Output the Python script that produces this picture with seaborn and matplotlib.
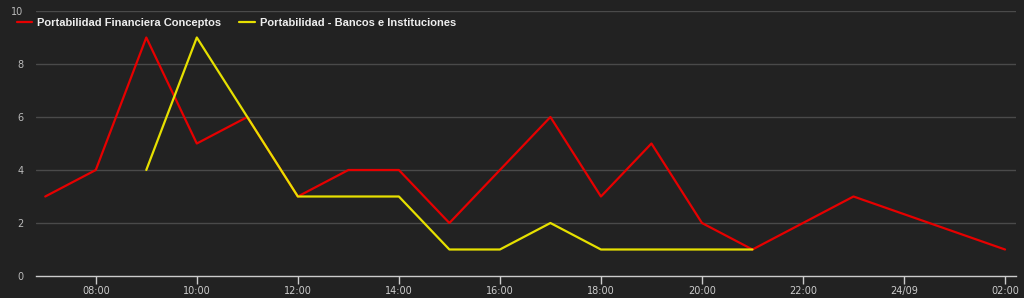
import matplotlib
matplotlib.use("Agg")
import matplotlib.pyplot as plt
import matplotlib.dates as mdates
from matplotlib.ticker import FuncFormatter
import seaborn as sns
import pandas as pd

red_times = ["2023-09-23 07:00", "2023-09-23 08:00", "2023-09-23 09:00", "2023-09-23 10:00",
             "2023-09-23 11:00", "2023-09-23 12:00", "2023-09-23 13:00", "2023-09-23 14:00",
             "2023-09-23 15:00", "2023-09-23 16:00", "2023-09-23 17:00", "2023-09-23 18:00",
             "2023-09-23 19:00", "2023-09-23 20:00", "2023-09-23 21:00", "2023-09-23 22:00",
             "2023-09-23 23:00", "2023-09-24 02:00"]
red_values = [3, 4, 9, 5, 6, 3, 4, 4, 2, 4, 6, 3, 5, 2, 1, 2, 3, 1]

yellow_times = ["2023-09-23 09:00", "2023-09-23 10:00", "2023-09-23 11:00", "2023-09-23 12:00",
                "2023-09-23 13:00", "2023-09-23 14:00", "2023-09-23 15:00", "2023-09-23 16:00",
                "2023-09-23 17:00", "2023-09-23 18:00", "2023-09-23 19:00", "2023-09-23 20:00",
                "2023-09-23 21:00"]
yellow_values = [4, 9, 6, 3, 3, 3, 1, 1, 2, 1, 1, 1, 1]

series_names = ["Portabilidad Financiera Conceptos", "Portabilidad - Bancos e Instituciones"]
series_colors = ["#e60000", "#e6e000"]
y_ticks = [0, 2, 4, 6, 8, 10]

bg = "#222222"
df = pd.concat([
    pd.DataFrame({"time": pd.to_datetime(red_times), "value": red_values, "series": series_names[0]}),
    pd.DataFrame({"time": pd.to_datetime(yellow_times), "value": yellow_values, "series": series_names[1]}),
])

sns.set_style("dark")
plt.rcParams["font.family"] = ["DejaVu Sans"]

fig = plt.figure(figsize=(10.24, 2.98), dpi=100, facecolor=bg)
ax = fig.add_axes([36/1024, 1 - 276/298, 980/1024, 265/298])
ax.set_facecolor(bg)

sns.lineplot(data=df, x="time", y="value", hue="series", palette=series_colors,
             hue_order=series_names, linewidth=1.6, ax=ax, sort=True)

ax.set_ylim(0, 10)
ax.set_yticks(y_ticks)
ax.set_xlim(pd.Timestamp("2023-09-23 06:49"), pd.Timestamp("2023-09-24 02:13"))
ax.xaxis.set_major_locator(mdates.HourLocator(byhour=range(0, 24, 2)))

def fmt(x, pos):
    d = mdates.num2date(x)
    if d.hour == 0 and d.minute == 0:
        return d.strftime("%d/%m")
    return d.strftime("%H:%M")

ax.xaxis.set_major_formatter(FuncFormatter(fmt))
ax.grid(False)
for y in y_ticks[1:]:
    ax.axhline(y, color="#4a4a4a", linewidth=1, zorder=0)

for s in ["top", "right", "left"]:
    ax.spines[s].set_visible(False)
ax.spines["bottom"].set_color("#cccccc")
ax.spines["bottom"].set_linewidth(1)
ax.tick_params(axis="x", bottom=True, colors="#cccccc", length=6, width=1, direction="out",
               labelsize=7, pad=1)
ax.tick_params(axis="y", left=False, colors="#bbbbbb", length=0, labelsize=7, pad=9)
for lbl in ax.get_xticklabels():
    lbl.set_color("#cccccc")
for lbl in ax.get_yticklabels():
    lbl.set_color("#bbbbbb")
ax.set_xlabel("")
ax.set_ylabel("")

leg = ax.legend(loc="upper left", bbox_to_anchor=(-0.024, 0.99), ncol=2, frameon=False,
                handlelength=1.4, handletextpad=0.45, columnspacing=1.6,
                prop={"family": "Liberation Sans", "size": 8, "weight": "bold"}, borderaxespad=0)
for t in leg.get_texts():
    t.set_color("#eeeeee")

fig.savefig("out.png", dpi=100, facecolor=bg)
